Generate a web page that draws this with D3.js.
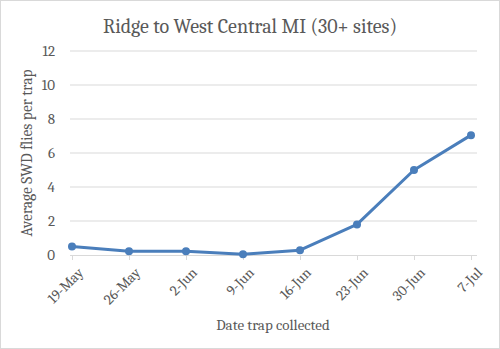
<!DOCTYPE html>
<html><head><meta charset="utf-8">
<script src="https://cdn.jsdelivr.net/npm/d3@7"></script>
<style>body{margin:0;background:#fff}svg{display:block}</style>
</head><body>
<svg id="c" width="500" height="349"></svg>
<script>
const categories = ["19-May","26-May","2-Jun","9-Jun","16-Jun","23-Jun","30-Jun","7-Jul"];
const values = [0.5, 0.22, 0.22, 0.05, 0.28, 1.8, 5.0, 7.05];
const yTicks = [0, 2, 4, 6, 8, 10, 12];
const chartTitle = "Ridge to West Central MI (30+ sites)";
const yTitle = "Average SWD flies per trap";
const xTitle = "Date trap collected";

(function(){
const svg = d3.select("#c");
const font = "Cambria, 'Liberation Serif', 'DejaVu Serif', serif";
const W = 500, H = 349;
const mL = 70, mR = 477, mT = 51, mB = 255;

svg.append("rect").attr("x",0.5).attr("y",0.5).attr("width",W-1).attr("height",H-1)
  .attr("fill","#fff").attr("stroke","#d9d9d9");

const x = d3.scalePoint().domain(categories).range([mL+2, mR-6]);
const y = d3.scaleLinear().domain([0,12]).range([mB, mT]);

svg.append("g").selectAll("line").data(yTicks.filter(d=>d>0)).join("line")
  .attr("x1",mL).attr("x2",mR).attr("y1",d=>y(d)).attr("y2",d=>y(d))
  .attr("stroke","#d9d9d9").attr("stroke-width",1);

const ya = svg.append("g").attr("transform",`translate(${mL},0)`)
  .call(d3.axisLeft(y).tickValues(yTicks).tickSize(0).tickPadding(15));
ya.select(".domain").remove();
ya.selectAll("text").attr("font-family",font).attr("font-size",15).attr("fill","#595959");

const xa = svg.append("g").attr("transform",`translate(0,${mB})`)
  .call(d3.axisBottom(x).tickSize(5).tickPadding(0));
xa.select(".domain").attr("d",`M${mL},0.5H${mR}`).attr("stroke","#d9d9d9");
xa.selectAll(".tick line").attr("stroke","#d9d9d9");
xa.selectAll("text").attr("font-family",font).attr("font-size",14.5).attr("fill","#595959")
  .attr("text-anchor","end").attr("y",0).attr("dy","0.35em")
  .attr("transform","translate(8,15) rotate(-45)");

svg.append("path").datum(values)
  .attr("fill","none").attr("stroke","#4a7ebb").attr("stroke-width",3).attr("stroke-linejoin","round")
  .attr("d", d3.line().x((d,i)=>x(categories[i])).y(d=>y(d)));
svg.append("g").selectAll("circle").data(values).join("circle")
  .attr("cx",(d,i)=>x(categories[i])).attr("cy",d=>y(d)).attr("r",4)
  .attr("fill","#4a7ebb");

svg.append("text").attr("x",250).attr("y",33).attr("text-anchor","middle")
  .attr("font-family",font).attr("font-size",20).attr("fill","#595959").text(chartTitle);
svg.append("text").attr("transform",`translate(32,${(mT+mB)/2}) rotate(-90)`)
  .attr("text-anchor","middle").attr("font-family",font).attr("font-size",15.5)
  .attr("fill","#595959").text(yTitle);
svg.append("text").attr("x",273).attr("y",330).attr("text-anchor","middle")
  .attr("font-family",font).attr("font-size",15).attr("fill","#595959").text(xTitle);
})();
</script>
</body></html>
